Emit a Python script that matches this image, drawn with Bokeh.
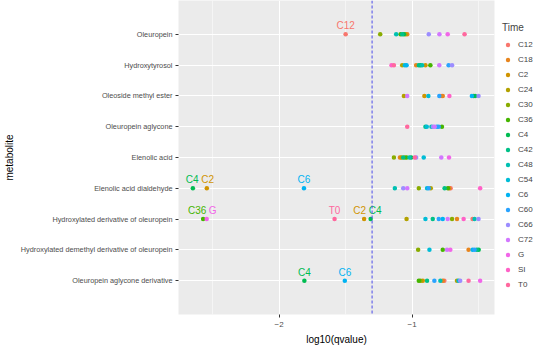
import math
from bokeh.plotting import figure
from bokeh.models import (ColumnDataSource, FactorRange, Range1d, FixedTicker,
                          Span, Legend, LegendItem)
from bokeh.core.properties import value
from bokeh.embed import file_html
from bokeh.resources import INLINE

# ---------------- data (log10 q-values) ----------------
metabolites = ["Oleuropein", "Hydroxytyrosol", "Oleoside methyl ester",
               "Oleuropein aglycone", "Elenolic acid", "Elenolic acid dialdehyde",
               "Hydroxylated derivative of oleuropein",
               "Hydroxylated demethyl derivative of oleuropein",
               "Oleuropein aglycone derivative"]

times = ["C12", "C18", "C2", "C24", "C30", "C36", "C4", "C42", "C48", "C54",
         "C6", "C60", "C66", "C72", "G", "SI", "T0"]

oleuropein_t = ["C12", "C30", "C48", "C36", "C42", "C4", "C24", "C18", "C66", "C72", "G", "T0"]
oleuropein_q = [-1.50, -1.24, -1.12, -1.087, -1.075, -1.062, -1.05, -1.037, -0.875, -0.795, -0.733, -0.606]

hydroxytyrosol_t = ["SI", "T0", "C24", "C54", "C6", "C18", "C42", "C4", "C48", "C2", "C36", "C72", "C60", "C66"]
hydroxytyrosol_q = [-1.155, -1.137, -1.075, -1.055, -1.042, -0.970, -0.95, -0.938, -0.925, -0.90, -0.863, -0.796, -0.726, -0.70]

oleoside_t = ["C24", "C72", "C2", "C54", "C60", "C12", "C18", "SI", "C6", "C36", "C4", "C66"]
oleoside_q = [-1.062, -1.037, -0.908, -0.878, -0.796, -0.783, -0.77, -0.72, -0.551, -0.539, -0.527, -0.501]

aglycone_t = ["T0", "C42", "C54", "C48", "C66", "C72", "C6", "C60", "C36"]
aglycone_q = [-1.037, -0.90, -0.89, -0.855, -0.843, -0.83, -0.813, -0.80, -0.776]

elenolic_t = ["C30", "C18", "C2", "C42", "C24", "C36", "C48", "C4", "T0", "C66", "C54", "C72", "G"]
elenolic_q = [-1.137, -1.092, -1.08, -1.067, -1.055, -1.042, -1.02, -1.007, -0.98, -0.97, -0.913, -0.781, -0.723]

dialdehyde_t = ["C4", "C2", "C6", "C48", "C66", "C72", "C30", "C54", "C60", "C24", "C42", "C36", "C18", "C12", "SI"]
dialdehyde_q = [-2.648, -2.543, -1.813, -1.13, -1.067, -1.037, -0.95, -0.888, -0.875, -0.86, -0.756, -0.731, -0.721, -0.711, -0.489]

hydroxylated_t = ["C36", "G", "T0", "C2", "C4", "C24", "C54", "C42", "C60", "C6", "C72", "C30", "C18", "SI", "C12", "C48", "C66"]
hydroxylated_q = [-2.571, -2.544, -1.583, -1.361, -1.312, -1.042, -0.90, -0.845, -0.80, -0.77, -0.733, -0.70, -0.663, -0.613, -0.546, -0.531, -0.501]

demethyl_t = ["C30", "C54", "C36", "C72", "G", "C18", "C6", "C60", "C42", "C4"]
demethyl_q = [-0.955, -0.87, -0.77, -0.738, -0.713, -0.576, -0.546, -0.531, -0.514, -0.50]

aglycone_deriv_t = ["C4", "C6", "C36", "C30", "C2", "C42", "C60", "C48", "C18", "C12", "C24", "C54", "C66", "T0", "G"]
aglycone_deriv_q = [-1.81, -1.506, -0.95, -0.938, -0.92, -0.888, -0.833, -0.788, -0.77, -0.758, -0.663, -0.651, -0.639, -0.576, -0.489]

row_times = [oleuropein_t, hydroxytyrosol_t, oleoside_t, aglycone_t, elenolic_t,
             dialdehyde_t, hydroxylated_t, demethyl_t, aglycone_deriv_t]
row_q = [oleuropein_q, hydroxytyrosol_q, oleoside_q, aglycone_q, elenolic_q,
         dialdehyde_q, hydroxylated_q, demethyl_q, aglycone_deriv_q]

threshold = math.log10(0.05)


# ---------------- ggplot-like hue palette ----------------
def hcl_hex(h, c=100.0, l=65.0):
    Xn, Yn, Zn = 95.047, 100.0, 108.883
    den = Xn + 15 * Yn + 3 * Zn
    un, vn = 4 * Xn / den, 9 * Yn / den
    hr = math.radians(h)
    U, V = c * math.cos(hr), c * math.sin(hr)
    Y = Yn * ((l + 16) / 116) ** 3
    u = U / (13 * l) + un
    v = V / (13 * l) + vn
    X = 9.0 * Y * u / (4 * v)
    Z = -X / 3 - 5 * Y + 3 * Y / v
    X, Y, Z = X / 100, Y / 100, Z / 100
    rgb = [3.240479 * X - 1.537150 * Y - 0.498535 * Z,
           -0.969256 * X + 1.875992 * Y + 0.041556 * Z,
           0.055648 * X - 0.204043 * Y + 1.057311 * Z]
    out = []
    for t in rgb:
        t = 1.055 * t ** (1 / 2.4) - 0.055 if t > 0.0031308 else 12.92 * t
        out.append(int(round(255 * min(1, max(0, t)))))
    return "#%02X%02X%02X" % tuple(out)


n = len(times)
palette = [hcl_hex(15 + i * 360.0 / n) for i in range(n)]
color_of = dict(zip(times, palette))

# ---------------- build records ----------------
rec_m, rec_t, rec_q = [], [], []
for m, ts, qs in zip(metabolites, row_times, row_q):
    for t, q in zip(ts, qs):
        rec_m.append(m); rec_t.append(t); rec_q.append(q)

qmin, qmax = min(rec_q), max(rec_q)
span = qmax - qmin
xmin, xmax = qmin - 0.05 * span, qmax + 0.05 * span

FW, FH = 316, 314
FONT = "Liberation Sans"

p = figure(y_range=FactorRange(factors=metabolites[::-1], range_padding=0.6,
                               range_padding_units="absolute"),
           x_range=Range1d(xmin, xmax),
           frame_width=FW, frame_height=FH,
           output_backend="svg", toolbar_location=None,
           min_border_top=0, min_border_left=0, min_border_right=0, min_border_bottom=0)

p.background_fill_color = "#EBEBEB"
p.border_fill_color = "white"
p.outline_line_color = None

p.xaxis.ticker = FixedTicker(ticks=[-2, -1], minor_ticks=[-2.5, -1.5, -0.5])
p.xgrid.grid_line_color = "white"
p.xgrid.grid_line_width = 1.1
p.xgrid.minor_grid_line_color = "white"
p.xgrid.minor_grid_line_width = 0.5
p.ygrid.grid_line_color = "white"
p.ygrid.grid_line_width = 1.1

for ax in (p.xaxis[0], p.yaxis[0]):
    ax.axis_line_color = None
    ax.major_tick_line_color = "#333333"
    ax.major_tick_in = 0
    ax.major_tick_out = 3
    ax.minor_tick_line_color = None
    ax.major_label_text_color = "#4D4D4D"
    ax.major_label_text_font = FONT
    ax.major_label_text_font_size = "8px"
    ax.axis_label_text_font = FONT
    ax.axis_label_text_font_size = "10px"
    ax.axis_label_text_font_style = "normal"
    ax.axis_label_text_color = "black"
    ax.major_label_standoff = 3
    ax.axis_label_standoff = 4

p.yaxis[0].major_label_text_font_size = "7.3px"
p.yaxis[0].axis_label_standoff = 3
p.xaxis.axis_label = "log10(qvalue)"
p.yaxis.axis_label = "metabolite"

vline = Span(location=threshold, dimension="height", line_color="#4A4AEA",
             line_dash="3 2", line_width=1)
p.add_layout(vline)

items = []
for t in times:
    idx = [i for i, tt in enumerate(rec_t) if tt == t]
    src = ColumnDataSource(dict(x=[rec_q[i] for i in idx], y=[rec_m[i] for i in idx]))
    r = p.scatter("x", "y", source=src, size=4.5, color=color_of[t], line_width=0)
    items.append(LegendItem(label=t, renderers=[r]))

# labels for significant points, with simple horizontal repel
px_per_unit = FW / (xmax - xmin)
lx, ly, lt, lc, loff = [], [], [], [], []
for m in metabolites:
    labs = sorted([(rec_q[i], rec_t[i]) for i in range(len(rec_q))
                   if rec_m[i] == m and rec_q[i] < threshold])
    offs = [0.0] * len(labs)
    for k in range(1, len(labs)):
        w1 = len(labs[k - 1][1]) * 6.2
        w2 = len(labs[k][1]) * 6.2
        need = (w1 + w2) / 2 + 3
        have = (labs[k][0] - labs[k - 1][0]) * px_per_unit + offs[k] - offs[k - 1]
        if have < need:
            d = (need - have) / 2
            offs[k - 1] -= d
            offs[k] += d
    for (q, t), o in zip(labs, offs):
        lx.append(q); ly.append(m); lt.append(t); lc.append(color_of[t]); loff.append(o)

lsrc = ColumnDataSource(dict(x=lx, y=ly, text=lt, color=lc, xo=loff))
p.text("x", "y", text="text", source=lsrc, text_color="color", x_offset="xo",
       y_offset=-3, text_align="center", text_baseline="bottom",
       text_font_size="10px", text_font=value(FONT))

legend = Legend(items=items, location="center_left", title="Time",
                title_text_font=FONT, title_text_font_size="10px",
                title_text_font_style="normal", title_standoff=4,
                label_text_font=FONT, label_text_font_size="8px",
                glyph_width=11, glyph_height=11, label_height=15,
                label_standoff=5, spacing=0, padding=3, margin=8,
                border_line_color=None, background_fill_alpha=0)
p.add_layout(legend, "right")

open("out.html", "w").write(file_html(p, INLINE))
